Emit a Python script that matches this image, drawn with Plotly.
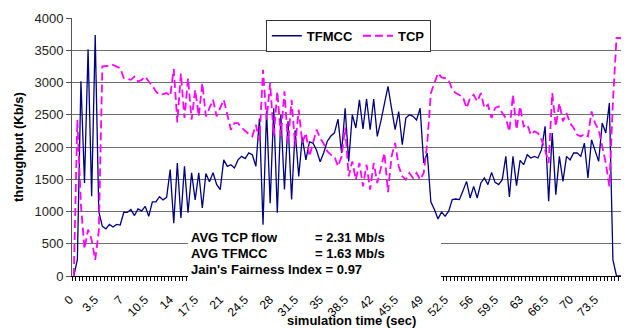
import plotly.graph_objects as go

# category axis: simulation time in 0.5 s steps
time_sec = [i * 0.5 for i in range(156)]

tfmcc = [
    0, 255, 3020, 1443, 3517, 1236, 3738, 1000, 770, 730,
    800, 760, 800, 790, 985, 985, 1030, 937, 1040, 1010,
    1080, 925, 1150, 1150, 1230, 1180, 1220, 1650, 820, 1750,
    900, 1700, 980, 1600, 1180, 1600, 1055, 1590, 1460, 1600,
    1420, 1340, 1800, 1700, 1725, 1675, 1800, 1855, 1820, 1910,
    1880, 1700, 2440, 795, 2560, 1130, 2600, 980, 2500, 1340,
    2400, 1185, 2260, 1545, 2150, 1800, 2080, 2060, 1950, 1770,
    1910, 2090, 2170, 2220, 2433, 1907, 2600, 1777, 2500, 2294,
    2730, 2280, 2745, 2268, 2745, 2165, 2400, 2650, 2939, 2600,
    2268, 2550, 2036, 2449, 2500, 2475, 2420, 2600, 1752, 1907,
    1150, 1030, 885, 990, 927, 1005, 1184, 1194, 1184, 1320,
    1467, 1210, 1390, 1210, 1442, 1519, 1416, 1607, 1452, 1416,
    1494, 1855, 1225, 1855, 1400, 1793, 1726, 1881, 1830, 1855,
    1830, 1959, 2320, 1159, 2217, 1262, 1855, 1468, 1855, 1800,
    1907, 1907, 1855, 2061, 1520, 2113, 1950, 1777, 2371, 2217,
    2681, 250, 0, 0, 0, 0,
]

tcp = [
    0, 2420, 1100, 420, 720, 560, 250, 700, 3250, 3250,
    3260, 3274, 3250, 3222, 3068, 3060, 3042, 3093, 3016, 3040,
    3093, 3016, 2950, 2861, 2810, 2820, 2836, 2790, 3210, 2380,
    3140, 2450, 3068, 2423, 2887, 2475, 2990, 2475, 2600, 2733,
    2475, 2600, 2733, 2500, 2268, 2370, 2370, 2300, 2243, 2200,
    2165, 2346, 2100, 3196, 2423, 2990, 2165, 2862, 2165, 2862,
    2061, 2733, 2010, 2578, 2061, 2216, 1855, 2083, 2268, 2139,
    2050, 1933, 1880, 1855, 1700, 1850, 2300, 1545, 1777, 1494,
    1752, 1390, 1726, 1339, 1752, 1442, 1700, 1907, 1300, 1855,
    2062, 1700, 1545, 1494, 1597, 1520, 1597, 1494, 1597, 2062,
    2836, 3000, 3145, 3080, 3068, 3040, 2887, 2836, 2800, 2774,
    2604, 2758, 2810, 2707, 2836, 2604, 2655, 2449, 2604, 2630,
    2526, 2449, 2242, 2810, 2268, 2630, 2320, 2350, 2190, 2242,
    2216, 2113, 1958, 1752, 2836, 2320, 2681, 2397, 2526, 2371,
    2294, 2190, 2165, 2200, 2165, 2552, 2371, 2268, 2010, 1750,
    1390, 2700, 3690, 3690, 3660, 3690,
]

x_tick_vals = [0, 3.5, 7, 10.5, 14, 17.5, 21, 24.5, 28, 31.5, 35, 38.5, 42,
               45.5, 49, 52.5, 56, 59.5, 63, 66.5, 70, 73.5]
x_tick_text = ["0", "3.5", "7", "10.5", "14", "17.5", "21", "24.5", "28", "31.5",
               "35", "38.5", "42", "45.5", "49", "52.5", "56", "59.5", "63",
               "66.5", "70", "73.5"]

stats_labels = ["AVG TCP flow", "AVG TFMCC", "Jain's Fairness Index = 0.97"]
stats_values = ["= 2.31 Mb/s", "= 1.63 Mb/s", ""]

FONT = "Arial, Liberation Sans, sans-serif"

fig = go.Figure()
fig.add_trace(go.Scatter(
    x=time_sec, y=tfmcc, mode="lines", name="TFMCC",
    line=dict(color="#000080", width=1.3),
))
fig.add_trace(go.Scatter(
    x=time_sec, y=tcp, mode="lines", name="TCP",
    line=dict(color="#ff00ff", width=1.8, dash="8px,4px"),
))

# the page body adds an 8px offset, so the figure is sized to end at the window edge
fig.update_layout(
    width=621, height=320,
    margin=dict(l=64, r=0, t=10, b=52),
    paper_bgcolor="white", plot_bgcolor="white",
    font=dict(family=FONT, color="black"),
    showlegend=True,
    legend=dict(
        orientation="h", x=0.348, xanchor="left", y=0.993, yanchor="top",
        bgcolor="white", bordercolor="#333333", borderwidth=1,
        font=dict(family=FONT, size=13, color="black", weight="bold"),
        tracegroupgap=0,
    ),
    xaxis=dict(
        range=[-0.25, 77.75],
        tickmode="array", tickvals=x_tick_vals, ticktext=x_tick_text,
        tickangle=-45, ticks="", showgrid=False, zeroline=False,
        showline=True, linecolor="#000000", linewidth=1,
        tickfont=dict(family=FONT, size=12, color="black"),
        ticklabelstandoff=11, ticklabelshift=-4,
        minor=dict(tick0=-0.25, dtick=0.5, ticks="outside", ticklen=4,
                   tickcolor="#000000", tickwidth=1, showgrid=False),
    ),
    yaxis=dict(
        range=[0, 4000], tick0=0, dtick=500,
        showgrid=True, gridcolor="#6e6e6e", gridwidth=1, zeroline=False,
        showline=True, linecolor="#555555", linewidth=1,
        ticks="outside", ticklen=5, tickcolor="#555555",
        tickfont=dict(family=FONT, size=13, color="#222222"),
    ),
)

# white box holding the statistics text
fig.add_shape(type="rect", xref="paper", yref="paper",
              x0=0.2083, x1=0.6625, y0=-0.028, y1=0.186,
              fillcolor="white", line=dict(width=0), layer="above")

line_y = [0.151, 0.0853, 0.0233]
for lab, val, yy in zip(stats_labels, stats_values, line_y):
    fig.add_annotation(xref="paper", yref="paper", x=0.2101, y=yy,
                       xanchor="left", yanchor="middle", showarrow=False,
                       text=lab, font=dict(family=FONT, size=13, color="black", weight="bold"))
    if val:
        fig.add_annotation(xref="paper", yref="paper", x=0.4327, y=yy,
                           xanchor="left", yanchor="middle", showarrow=False,
                           text=val, font=dict(family=FONT, size=13, color="black", weight="bold"))

# axis titles
fig.add_annotation(xref="paper", yref="paper", x=-0.097, y=0.5,
                   xanchor="center", yanchor="middle", textangle=-90, showarrow=False,
                   text="throughput (Kb/s)",
                   font=dict(family=FONT, size=13, color="black", weight="bold"))
fig.add_annotation(xref="paper", yref="paper", x=0.5009, y=-0.172,
                   xanchor="center", yanchor="middle", showarrow=False,
                   text="simulation time (sec)",
                   font=dict(family=FONT, size=13, color="black", weight="bold"))

fig.write_html("out.html")
